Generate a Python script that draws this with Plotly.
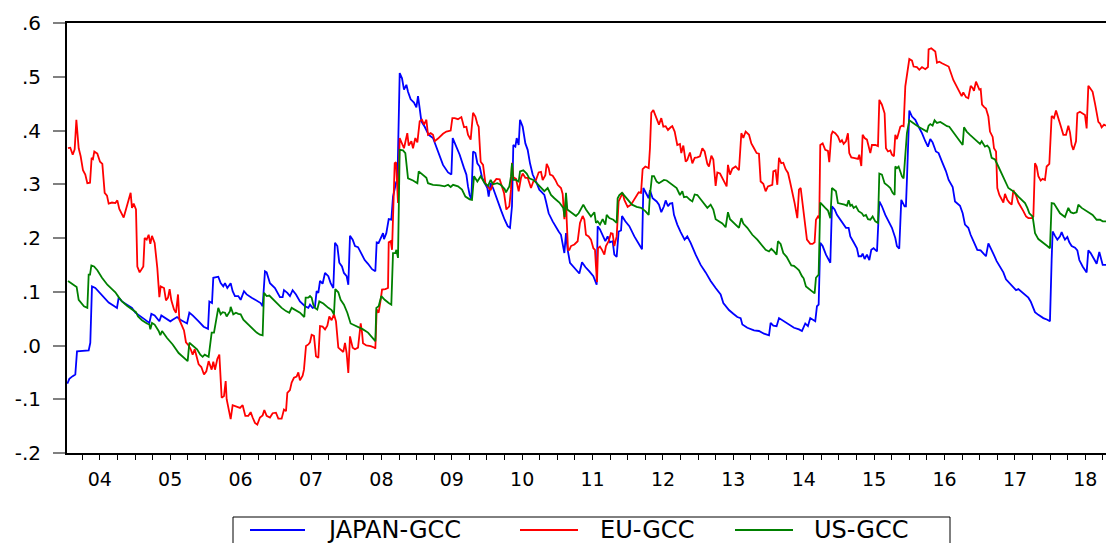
import plotly.graph_objects as go

# Time is in decimal years; values are the rolling correlations.
japan_t = [2004.039, 2004.067, 2004.115, 2004.152, 2004.176, 2004.342, 2004.365, 2004.389, 2004.436, 2004.493,
           2004.531, 2004.579, 2004.626, 2004.697, 2004.744, 2004.768, 2004.815, 2004.886, 2004.957, 2005.005,
           2005.052, 2005.123, 2005.204, 2005.232, 2005.279, 2005.346, 2005.374, 2005.431, 2005.502, 2005.535,
           2005.597, 2005.644, 2005.691, 2005.739, 2005.772, 2005.819, 2005.904, 2005.975, 2006.037, 2006.056,
           2006.094, 2006.112, 2006.183, 2006.217, 2006.254, 2006.278, 2006.311, 2006.359, 2006.387, 2006.420,
           2006.467, 2006.501, 2006.548, 2006.586, 2006.657, 2006.728, 2006.785, 2006.813, 2006.846, 2006.870,
           2006.917, 2006.988, 2007.021, 2007.059, 2007.097, 2007.116, 2007.164, 2007.201, 2007.239, 2007.287,
           2007.343, 2007.415, 2007.462, 2007.486, 2007.523, 2007.556, 2007.580, 2007.604, 2007.628, 2007.665,
           2007.699, 2007.746, 2007.779, 2007.817, 2007.841, 2007.874, 2007.902, 2007.940, 2007.968, 2008.006,
           2008.030, 2008.054, 2008.092, 2008.125, 2008.168, 2008.225, 2008.263, 2008.310, 2008.367, 2008.414,
           2008.433, 2008.461, 2008.499, 2008.523, 2008.537, 2008.570, 2008.604, 2008.641, 2008.665, 2008.698,
           2008.712, 2008.727, 2008.760, 2008.793, 2008.821, 2008.855, 2008.878, 2008.916, 2008.963, 2008.997,
           2009.020, 2009.044, 2009.068, 2009.115, 2009.172, 2009.233, 2009.304, 2009.375, 2009.447, 2009.494,
           2009.513, 2009.550, 2009.612, 2009.674, 2009.707, 2009.730, 2009.754, 2009.778, 2009.802, 2009.835,
           2009.863, 2009.896, 2009.929, 2009.967, 2010.005, 2010.024, 2010.052, 2010.086, 2010.119, 2010.157,
           2010.204, 2010.251, 2010.294, 2010.327, 2010.355, 2010.374, 2010.403, 2010.422, 2010.450, 2010.469,
           2010.507, 2010.545, 2010.578, 2010.611, 2010.649, 2010.706, 2010.743, 2010.781, 2010.815, 2010.838,
           2010.876, 2010.933, 2010.980, 2011.018, 2011.051, 2011.075, 2011.099, 2011.122, 2011.146, 2011.179,
           2011.241, 2011.312, 2011.350, 2011.397, 2011.454, 2011.511, 2011.558, 2011.572, 2011.605, 2011.643,
           2011.681, 2011.714, 2011.747, 2011.785, 2011.809, 2011.842, 2011.870, 2011.904, 2011.918, 2011.965,
           2012.022, 2012.093, 2012.155, 2012.202, 2012.221, 2012.259, 2012.297, 2012.315, 2012.353, 2012.410,
           2012.443, 2012.476, 2012.514, 2012.538, 2012.571, 2012.599, 2012.632, 2012.656, 2012.703, 2012.751,
           2012.807, 2012.845, 2012.893, 2012.964, 2013.035, 2013.106, 2013.177, 2013.248, 2013.319, 2013.357,
           2013.390, 2013.437, 2013.499, 2013.556, 2013.603, 2013.627, 2013.698, 2013.793, 2013.863, 2013.935,
           2014.006, 2014.029, 2014.067, 2014.114, 2014.148, 2014.219, 2014.290, 2014.361, 2014.432, 2014.474,
           2014.521, 2014.559, 2014.592, 2014.663, 2014.687, 2014.711, 2014.734, 2014.768, 2014.815, 2014.853,
           2014.877, 2014.900, 2014.938, 2014.971, 2015.019, 2015.066, 2015.099, 2015.137, 2015.161, 2015.208,
           2015.255, 2015.279, 2015.317, 2015.336, 2015.364, 2015.397, 2015.431, 2015.459, 2015.492, 2015.516,
           2015.540, 2015.573, 2015.610, 2015.658, 2015.705, 2015.752, 2015.800, 2015.823, 2015.856, 2015.885,
           2015.932, 2015.951, 2015.965, 2015.999, 2016.037, 2016.084, 2016.131, 2016.179, 2016.226, 2016.264,
           2016.297, 2016.330, 2016.377, 2016.415, 2016.463, 2016.520, 2016.558, 2016.615, 2016.648, 2016.681,
           2016.719, 2016.757, 2016.790, 2016.837, 2016.870, 2016.918, 2016.965, 2017.012, 2017.050, 2017.088,
           2017.122, 2017.155, 2017.192, 2017.240, 2017.287, 2017.335, 2017.372, 2017.420, 2017.467, 2017.515,
           2017.548, 2017.581, 2017.628, 2017.690, 2017.723, 2017.751, 2017.784, 2017.832, 2017.903, 2017.960,
           2017.997, 2018.021, 2018.035, 2018.069, 2018.102, 2018.140, 2018.163, 2018.187, 2018.210, 2018.244,
           2018.272, 2018.305, 2018.353, 2018.386, 2018.414, 2018.461, 2018.518, 2018.542, 2018.575, 2018.623,
           2018.660, 2018.698, 2018.722, 2018.746, 2018.793]
japan_v = [-0.071, -0.062, -0.057, -0.054, -0.011, -0.009, 0.005, 0.110, 0.107, 0.099,
           0.092, 0.085, 0.080, 0.074, 0.070, 0.089, 0.082, 0.076, 0.070, 0.061,
           0.056, 0.050, 0.042, 0.059, 0.056, 0.045, 0.056, 0.051, 0.045, 0.048,
           0.053, 0.048, 0.045, 0.041, 0.061, 0.056, 0.045, 0.035, 0.031, 0.082,
           0.079, 0.126, 0.128, 0.116, 0.110, 0.116, 0.107, 0.116, 0.101, 0.092,
           0.092, 0.085, 0.101, 0.095, 0.089, 0.084, 0.079, 0.073, 0.138, 0.136,
           0.116, 0.107, 0.099, 0.090, 0.090, 0.103, 0.098, 0.092, 0.103, 0.095,
           0.082, 0.073, 0.070, 0.076, 0.070, 0.072, 0.101, 0.098, 0.120, 0.115,
           0.135, 0.129, 0.116, 0.107, 0.191, 0.185, 0.154, 0.147, 0.135, 0.129,
           0.113, 0.204, 0.197, 0.185, 0.183, 0.169, 0.159, 0.152, 0.142, 0.138,
           0.192, 0.191, 0.203, 0.209, 0.198, 0.209, 0.235, 0.234, 0.277, 0.296,
           0.305, 0.302, 0.507, 0.497, 0.476, 0.485, 0.472, 0.458, 0.452, 0.443,
           0.464, 0.441, 0.417, 0.407, 0.392, 0.386, 0.361, 0.336, 0.322, 0.318,
           0.386, 0.374, 0.355, 0.330, 0.318, 0.296, 0.280, 0.272, 0.361, 0.358,
           0.339, 0.333, 0.313, 0.302, 0.293, 0.277, 0.302, 0.293, 0.280, 0.266,
           0.250, 0.234, 0.222, 0.219, 0.259, 0.373, 0.370, 0.386, 0.373, 0.420,
           0.407, 0.376, 0.364, 0.339, 0.318, 0.302, 0.290, 0.285, 0.280, 0.268,
           0.246, 0.231, 0.219, 0.212, 0.206, 0.192, 0.172, 0.209, 0.178, 0.154,
           0.144, 0.134, 0.155, 0.146, 0.138, 0.129, 0.113, 0.222, 0.216, 0.204,
           0.194, 0.203, 0.192, 0.194, 0.169, 0.165, 0.212, 0.214, 0.241, 0.231,
           0.222, 0.203, 0.190, 0.179, 0.293, 0.283, 0.274, 0.289, 0.274, 0.268,
           0.262, 0.248, 0.259, 0.270, 0.259, 0.264, 0.265, 0.243, 0.225, 0.211,
           0.197, 0.203, 0.191, 0.169, 0.150, 0.136, 0.120, 0.107, 0.095, 0.079,
           0.074, 0.066, 0.059, 0.053, 0.051, 0.039, 0.033, 0.028, 0.027, 0.022,
           0.019, 0.042, 0.037, 0.036, 0.051, 0.045, 0.039, 0.033, 0.030, 0.027,
           0.041, 0.036, 0.051, 0.045, 0.073, 0.076, 0.191, 0.185, 0.169, 0.160,
           0.154, 0.259, 0.253, 0.243, 0.234, 0.225, 0.219, 0.219, 0.203, 0.192,
           0.181, 0.166, 0.166, 0.171, 0.161, 0.169, 0.159, 0.178, 0.181, 0.178,
           0.175, 0.268, 0.259, 0.243, 0.231, 0.219, 0.200, 0.185, 0.180, 0.271,
           0.259, 0.259, 0.308, 0.437, 0.426, 0.420, 0.407, 0.395, 0.380, 0.370,
           0.384, 0.378, 0.361, 0.358, 0.342, 0.324, 0.308, 0.295, 0.268, 0.264,
           0.260, 0.246, 0.225, 0.219, 0.206, 0.192, 0.178, 0.177, 0.171, 0.166,
           0.190, 0.182, 0.171, 0.157, 0.147, 0.136, 0.123, 0.116, 0.110, 0.103,
           0.105, 0.101, 0.095, 0.089, 0.082, 0.074, 0.062, 0.057, 0.051, 0.048,
           0.045, 0.160, 0.212, 0.204, 0.197, 0.203, 0.211, 0.203, 0.197, 0.202,
           0.192, 0.185, 0.182, 0.177, 0.159, 0.147, 0.136, 0.177, 0.172, 0.161,
           0.152, 0.174, 0.159, 0.150, 0.150]

eu_t = [2004.048, 2004.081, 2004.115, 2004.143, 2004.167, 2004.200, 2004.228, 2004.261, 2004.294, 2004.323,
        2004.361, 2004.384, 2004.403, 2004.422, 2004.465, 2004.503, 2004.536, 2004.569, 2004.602, 2004.626,
        2004.673, 2004.721, 2004.749, 2004.777, 2004.839, 2004.891, 2004.910, 2004.938, 2004.957, 2004.981,
        2005.014, 2005.033, 2005.066, 2005.118, 2005.137, 2005.166, 2005.194, 2005.218, 2005.241, 2005.279,
        2005.317, 2005.346, 2005.365, 2005.412, 2005.440, 2005.469, 2005.492, 2005.516, 2005.554, 2005.582,
        2005.611, 2005.630, 2005.668, 2005.696, 2005.724, 2005.762, 2005.791, 2005.819, 2005.848, 2005.876,
        2005.904, 2005.942, 2005.980, 2006.013, 2006.046, 2006.089, 2006.112, 2006.136, 2006.169, 2006.198,
        2006.231, 2006.264, 2006.288, 2006.302, 2006.325, 2006.359, 2006.387, 2006.444, 2006.491, 2006.529,
        2006.567, 2006.609, 2006.643, 2006.671, 2006.704, 2006.737, 2006.775, 2006.813, 2006.837, 2006.870,
        2006.917, 2006.955, 2007.002, 2007.036, 2007.083, 2007.116, 2007.145, 2007.164, 2007.201, 2007.225,
        2007.258, 2007.296, 2007.320, 2007.343, 2007.381, 2007.400, 2007.429, 2007.462, 2007.486, 2007.509,
        2007.542, 2007.571, 2007.604, 2007.628, 2007.665, 2007.699, 2007.732, 2007.760, 2007.793, 2007.826,
        2007.855, 2007.888, 2007.921, 2007.959, 2007.983, 2008.006, 2008.030, 2008.054, 2008.092, 2008.125,
        2008.168, 2008.206, 2008.225, 2008.239, 2008.286, 2008.348, 2008.405, 2008.414, 2008.433, 2008.461,
        2008.490, 2008.509, 2008.556, 2008.594, 2008.604, 2008.632, 2008.651, 2008.665, 2008.689, 2008.708,
        2008.736, 2008.760, 2008.793, 2008.821, 2008.868, 2008.888, 2008.926, 2008.949, 2008.982, 2009.011,
        2009.044, 2009.077, 2009.106, 2009.139, 2009.162, 2009.200, 2009.233, 2009.257, 2009.304, 2009.375,
        2009.423, 2009.484, 2009.508, 2009.541, 2009.588, 2009.636, 2009.674, 2009.707, 2009.730, 2009.768,
        2009.802, 2009.835, 2009.863, 2009.882, 2009.910, 2009.944, 2009.977, 2010.015, 2010.052, 2010.086,
        2010.133, 2010.180, 2010.214, 2010.242, 2010.275, 2010.317, 2010.341, 2010.355, 2010.374, 2010.412,
        2010.450, 2010.483, 2010.507, 2010.545, 2010.578, 2010.625, 2010.658, 2010.696, 2010.734, 2010.767,
        2010.791, 2010.829, 2010.848, 2010.876, 2010.895, 2010.933, 2010.971, 2011.004, 2011.051, 2011.075,
        2011.099, 2011.122, 2011.132, 2011.151, 2011.170, 2011.193, 2011.241, 2011.288, 2011.321, 2011.359,
        2011.383, 2011.406, 2011.444, 2011.477, 2011.511, 2011.534, 2011.548, 2011.563, 2011.577, 2011.605,
        2011.634, 2011.667, 2011.690, 2011.728, 2011.761, 2011.785, 2011.809, 2011.842, 2011.870, 2011.904,
        2011.927, 2011.951, 2011.998, 2012.046, 2012.107, 2012.155, 2012.188, 2012.211, 2012.249, 2012.297,
        2012.315, 2012.334, 2012.363, 2012.419, 2012.443, 2012.476, 2012.505, 2012.538, 2012.571, 2012.609,
        2012.632, 2012.666, 2012.703, 2012.741, 2012.760, 2012.789, 2012.822, 2012.845, 2012.883, 2012.917,
        2012.950, 2012.988, 2013.025, 2013.059, 2013.092, 2013.130, 2013.153, 2013.187, 2013.215, 2013.248,
        2013.272, 2013.310, 2013.343, 2013.376, 2013.404, 2013.423, 2013.452, 2013.485, 2013.532, 2013.579,
        2013.613, 2013.641, 2013.674, 2013.722, 2013.755, 2013.793, 2013.830, 2013.863, 2013.887, 2013.925,
        2013.958, 2013.991, 2014.029, 2014.053, 2014.067, 2014.100, 2014.124, 2014.148, 2014.180, 2014.209,
        2014.242, 2014.276, 2014.304, 2014.337, 2014.370, 2014.408, 2014.432, 2014.456, 2014.488, 2014.512,
        2014.531, 2014.545, 2014.592, 2014.625, 2014.654, 2014.673, 2014.701, 2014.720, 2014.734, 2014.768,
        2014.805, 2014.843, 2014.862, 2014.891, 2014.910, 2014.947, 2014.985, 2015.019, 2015.042, 2015.066,
        2015.099, 2015.127, 2015.146, 2015.175, 2015.208, 2015.270, 2015.288, 2015.317, 2015.336, 2015.364,
        2015.397, 2015.421, 2015.445, 2015.468, 2015.516, 2015.554, 2015.573, 2015.610, 2015.648, 2015.667,
        2015.696, 2015.729, 2015.752, 2015.781, 2015.800, 2015.823, 2015.847, 2015.871, 2015.894, 2015.918,
        2015.942, 2015.965, 2015.999, 2016.037, 2016.060, 2016.107, 2016.141, 2016.179, 2016.226, 2016.264,
        2016.273, 2016.311, 2016.344, 2016.368, 2016.392, 2016.425, 2016.463, 2016.501, 2016.558, 2016.624,
        2016.662, 2016.695, 2016.743, 2016.766, 2016.804, 2016.837, 2016.871, 2016.899, 2016.918, 2016.946,
        2016.965, 2016.994, 2017.013, 2017.032, 2017.060, 2017.088, 2017.122, 2017.145, 2017.183, 2017.202,
        2017.231, 2017.249, 2017.278, 2017.311, 2017.335, 2017.358, 2017.391, 2017.420, 2017.453, 2017.477,
        2017.515, 2017.548, 2017.581, 2017.619, 2017.657, 2017.690, 2017.737, 2017.761, 2017.784, 2017.808,
        2017.832, 2017.865, 2017.893, 2017.926, 2017.950, 2017.988, 2018.021, 2018.054, 2018.083, 2018.116,
        2018.149, 2018.187, 2018.225, 2018.258, 2018.282, 2018.305, 2018.329, 2018.367, 2018.386, 2018.423,
        2018.461, 2018.494, 2018.518, 2018.542, 2018.566, 2018.603, 2018.637, 2018.660, 2018.684, 2018.708,
        2018.731, 2018.765, 2018.793]
eu_v = [0.367, 0.368, 0.355, 0.365, 0.420, 0.367, 0.352, 0.326, 0.318, 0.302,
        0.303, 0.349, 0.347, 0.361, 0.357, 0.342, 0.338, 0.284, 0.279, 0.264,
        0.266, 0.265, 0.270, 0.254, 0.238, 0.259, 0.271, 0.284, 0.256, 0.264,
        0.253, 0.147, 0.136, 0.147, 0.200, 0.197, 0.206, 0.189, 0.204, 0.191,
        0.144, 0.090, 0.110, 0.107, 0.084, 0.089, 0.105, 0.084, 0.067, 0.061,
        0.095, 0.048, 0.037, 0.028, 0.006, 0.000, -0.007, -0.017, -0.007, -0.021,
        -0.035, -0.040, -0.054, -0.048, -0.029, -0.045, -0.030, -0.045, -0.025, -0.017,
        -0.097, -0.094, -0.066, -0.100, -0.113, -0.137, -0.111, -0.113, -0.116, -0.111,
        -0.131, -0.131, -0.124, -0.134, -0.144, -0.147, -0.134, -0.130, -0.120, -0.131,
        -0.134, -0.126, -0.125, -0.136, -0.136, -0.119, -0.122, -0.088, -0.083, -0.069,
        -0.060, -0.058, -0.050, -0.065, -0.056, -0.045, -0.001, 0.002, 0.006, 0.020,
        0.018, -0.020, -0.023, 0.036, 0.035, 0.030, 0.037, 0.054, 0.047, 0.058,
        0.045, -0.004, -0.007, -0.012, 0.005, -0.014, -0.051, 0.017, -0.004, -0.007,
        -0.004, 0.041, 0.024, 0.004, 0.000, -0.001, -0.004, -0.006, 0.067, 0.061,
        0.085, 0.104, 0.105, 0.107, 0.192, 0.194, 0.178, 0.259, 0.339, 0.341,
        0.265, 0.386, 0.376, 0.367, 0.395, 0.372, 0.380, 0.367, 0.386, 0.378,
        0.417, 0.420, 0.411, 0.420, 0.392, 0.395, 0.392, 0.380, 0.385, 0.394,
        0.398, 0.400, 0.423, 0.423, 0.421, 0.425, 0.406, 0.407, 0.392, 0.383,
        0.433, 0.426, 0.412, 0.407, 0.342, 0.336, 0.302, 0.296, 0.289, 0.302,
        0.310, 0.309, 0.297, 0.284, 0.253, 0.259, 0.290, 0.340, 0.313, 0.310,
        0.287, 0.312, 0.320, 0.312, 0.312, 0.293, 0.305, 0.308, 0.322, 0.323,
        0.308, 0.317, 0.338, 0.330, 0.318, 0.316, 0.308, 0.299, 0.293, 0.282,
        0.235, 0.280, 0.234, 0.178, 0.178, 0.185, 0.188, 0.194, 0.228, 0.241,
        0.234, 0.206, 0.203, 0.197, 0.181, 0.178, 0.147, 0.118, 0.181, 0.184,
        0.178, 0.169, 0.185, 0.194, 0.209, 0.208, 0.185, 0.203, 0.268, 0.277,
        0.284, 0.271, 0.258, 0.262, 0.276, 0.285, 0.284, 0.328, 0.333, 0.330,
        0.367, 0.433, 0.438, 0.421, 0.411, 0.423, 0.407, 0.408, 0.401, 0.406,
        0.408, 0.398, 0.373, 0.375, 0.358, 0.372, 0.342, 0.345, 0.359, 0.339,
        0.349, 0.350, 0.352, 0.367, 0.361, 0.338, 0.333, 0.353, 0.346, 0.297,
        0.322, 0.320, 0.311, 0.302, 0.296, 0.336, 0.318, 0.329, 0.333, 0.326,
        0.395, 0.386, 0.398, 0.392, 0.376, 0.367, 0.358, 0.357, 0.305, 0.301,
        0.287, 0.296, 0.297, 0.299, 0.324, 0.326, 0.299, 0.349, 0.339, 0.340,
        0.328, 0.321, 0.305, 0.287, 0.265, 0.237, 0.290, 0.293, 0.259, 0.234,
        0.209, 0.197, 0.189, 0.189, 0.192, 0.234, 0.240, 0.237, 0.373, 0.376,
        0.364, 0.362, 0.341, 0.392, 0.398, 0.395, 0.389, 0.378, 0.382, 0.375,
        0.380, 0.395, 0.358, 0.350, 0.349, 0.347, 0.355, 0.334, 0.392, 0.386,
        0.383, 0.367, 0.358, 0.373, 0.373, 0.371, 0.457, 0.448, 0.432, 0.367,
        0.361, 0.363, 0.355, 0.352, 0.392, 0.384, 0.395, 0.407, 0.409, 0.408,
        0.482, 0.507, 0.533, 0.530, 0.519, 0.518, 0.513, 0.518, 0.514, 0.518,
        0.551, 0.553, 0.549, 0.547, 0.526, 0.528, 0.525, 0.522, 0.519, 0.494,
        0.485, 0.476, 0.464, 0.471, 0.462, 0.460, 0.483, 0.479, 0.474, 0.491,
        0.485, 0.476, 0.477, 0.448, 0.444, 0.441, 0.426, 0.398, 0.388, 0.367,
        0.361, 0.293, 0.280, 0.271, 0.266, 0.282, 0.271, 0.266, 0.262, 0.289,
        0.279, 0.266, 0.259, 0.250, 0.240, 0.237, 0.237, 0.240, 0.339, 0.333,
        0.315, 0.307, 0.310, 0.308, 0.333, 0.338, 0.427, 0.423, 0.437, 0.421,
        0.409, 0.392, 0.392, 0.409, 0.396, 0.373, 0.364, 0.380, 0.432, 0.435,
        0.432, 0.429, 0.404, 0.483, 0.479, 0.472, 0.450, 0.435, 0.416, 0.413,
        0.406, 0.411, 0.409]

us_t = [2004.048, 2004.105, 2004.171, 2004.200, 2004.237, 2004.275, 2004.323, 2004.342, 2004.361, 2004.380,
        2004.418, 2004.465, 2004.531, 2004.607, 2004.673, 2004.721, 2004.768, 2004.815, 2004.886, 2004.981,
        2005.014, 2005.043, 2005.099, 2005.170, 2005.204, 2005.218, 2005.241, 2005.279, 2005.336, 2005.360,
        2005.384, 2005.455, 2005.535, 2005.620, 2005.691, 2005.748, 2005.772, 2005.819, 2005.881, 2005.928,
        2005.961, 2005.990, 2006.046, 2006.065, 2006.089, 2006.122, 2006.150, 2006.183, 2006.217, 2006.245,
        2006.278, 2006.302, 2006.349, 2006.359, 2006.396, 2006.434, 2006.467, 2006.501, 2006.539, 2006.586,
        2006.657, 2006.728, 2006.775, 2006.813, 2006.832, 2006.870, 2006.908, 2006.965, 2007.012, 2007.083,
        2007.145, 2007.192, 2007.225, 2007.272, 2007.343, 2007.405, 2007.424, 2007.462, 2007.486, 2007.509,
        2007.533, 2007.556, 2007.589, 2007.618, 2007.675, 2007.746, 2007.793, 2007.826, 2007.845, 2007.888,
        2007.921, 2007.968, 2008.016, 2008.063, 2008.125, 2008.168, 2008.239, 2008.310, 2008.381, 2008.414,
        2008.428, 2008.461, 2008.499, 2008.547, 2008.604, 2008.641, 2008.665, 2008.698, 2008.713, 2008.736,
        2008.760, 2008.807, 2008.840, 2008.878, 2008.949, 2009.011, 2009.030, 2009.091, 2009.139, 2009.162,
        2009.233, 2009.328, 2009.399, 2009.447, 2009.484, 2009.518, 2009.588, 2009.645, 2009.693, 2009.754,
        2009.787, 2009.816, 2009.863, 2009.910, 2009.967, 2010.015, 2010.052, 2010.086, 2010.147, 2010.195,
        2010.251, 2010.270, 2010.317, 2010.341, 2010.355, 2010.374, 2010.412, 2010.450, 2010.469, 2010.516,
        2010.564, 2010.601, 2010.658, 2010.706, 2010.767, 2010.815, 2010.862, 2010.909, 2010.957, 2011.028,
        2011.084, 2011.103, 2011.122, 2011.141, 2011.193, 2011.264, 2011.302, 2011.368, 2011.406, 2011.477,
        2011.525, 2011.548, 2011.572, 2011.605, 2011.643, 2011.681, 2011.700, 2011.738, 2011.795, 2011.842,
        2011.856, 2011.880, 2011.918, 2011.951, 2011.998, 2012.060, 2012.126, 2012.188, 2012.249, 2012.297,
        2012.315, 2012.344, 2012.372, 2012.410, 2012.443, 2012.476, 2012.514, 2012.552, 2012.599, 2012.647,
        2012.694, 2012.741, 2012.775, 2012.798, 2012.836, 2012.883, 2012.917, 2012.950, 2012.988, 2013.035,
        2013.082, 2013.130, 2013.177, 2013.215, 2013.248, 2013.295, 2013.343, 2013.390, 2013.423, 2013.452,
        2013.509, 2013.579, 2013.613, 2013.641, 2013.698, 2013.769, 2013.840, 2013.897, 2013.958, 2014.006,
        2014.039, 2014.077, 2014.114, 2014.133, 2014.171, 2014.209, 2014.256, 2014.323, 2014.361, 2014.399,
        2014.432, 2014.474, 2014.498, 2014.531, 2014.578, 2014.616, 2014.654, 2014.673, 2014.711, 2014.734,
        2014.768, 2014.805, 2014.843, 2014.877, 2014.900, 2014.938, 2014.957, 2014.985, 2015.033, 2015.080,
        2015.113, 2015.137, 2015.161, 2015.184, 2015.208, 2015.241, 2015.279, 2015.326, 2015.350, 2015.383,
        2015.412, 2015.445, 2015.478, 2015.516, 2015.554, 2015.573, 2015.610, 2015.648, 2015.696, 2015.729,
        2015.762, 2015.790, 2015.800, 2015.823, 2015.847, 2015.871, 2015.894, 2015.918, 2015.942, 2015.965,
        2015.999, 2016.037, 2016.084, 2016.141, 2016.202, 2016.250, 2016.273, 2016.297, 2016.330, 2016.358,
        2016.392, 2016.439, 2016.486, 2016.534, 2016.567, 2016.648, 2016.681, 2016.719, 2016.757, 2016.776,
        2016.814, 2016.861, 2016.908, 2016.956, 2017.003, 2017.027, 2017.074, 2017.107, 2017.136, 2017.169,
        2017.216, 2017.264, 2017.311, 2017.358, 2017.406, 2017.453, 2017.500, 2017.548, 2017.595, 2017.643,
        2017.676, 2017.704, 2017.751, 2017.785, 2017.832, 2017.893, 2017.950, 2017.997, 2018.021, 2018.054,
        2018.092, 2018.140, 2018.210, 2018.258, 2018.291, 2018.329, 2018.376, 2018.400, 2018.447, 2018.495,
        2018.556, 2018.603, 2018.660, 2018.708, 2018.746, 2018.793]
us_v = [0.120, 0.115, 0.109, 0.085, 0.078, 0.073, 0.070, 0.132, 0.132, 0.149,
        0.147, 0.140, 0.126, 0.113, 0.105, 0.099, 0.090, 0.082, 0.074, 0.066,
        0.062, 0.054, 0.047, 0.041, 0.039, 0.030, 0.042, 0.039, 0.027, 0.019,
        0.027, 0.014, 0.002, -0.014, -0.023, -0.029, 0.005, -0.001, -0.007, -0.017,
        -0.021, -0.017, -0.021, -0.001, 0.024, 0.024, 0.045, 0.070, 0.058, 0.062,
        0.061, 0.054, 0.064, 0.072, 0.058, 0.061, 0.059, 0.058, 0.048, 0.042,
        0.033, 0.024, 0.020, 0.019, 0.098, 0.092, 0.093, 0.085, 0.080, 0.070,
        0.064, 0.061, 0.070, 0.067, 0.061, 0.053, 0.089, 0.089, 0.092, 0.089,
        0.076, 0.070, 0.067, 0.082, 0.078, 0.070, 0.066, 0.058, 0.105, 0.099,
        0.085, 0.076, 0.061, 0.041, 0.037, 0.035, 0.030, 0.024, 0.014, 0.008,
        0.070, 0.073, 0.092, 0.085, 0.079, 0.076, 0.172, 0.172, 0.178, 0.163,
        0.364, 0.363, 0.358, 0.311, 0.307, 0.302, 0.324, 0.318, 0.312, 0.302,
        0.299, 0.298, 0.296, 0.299, 0.295, 0.299, 0.296, 0.290, 0.277, 0.272,
        0.271, 0.315, 0.305, 0.315, 0.302, 0.297, 0.308, 0.300, 0.302, 0.299,
        0.291, 0.285, 0.296, 0.315, 0.339, 0.308, 0.308, 0.305, 0.324, 0.326,
        0.320, 0.311, 0.308, 0.302, 0.293, 0.287, 0.293, 0.280, 0.274, 0.266,
        0.256, 0.239, 0.284, 0.253, 0.248, 0.241, 0.246, 0.262, 0.253, 0.240,
        0.248, 0.228, 0.231, 0.225, 0.235, 0.225, 0.243, 0.237, 0.234, 0.228,
        0.274, 0.280, 0.284, 0.279, 0.271, 0.262, 0.258, 0.256, 0.250, 0.243,
        0.280, 0.315, 0.315, 0.305, 0.302, 0.305, 0.308, 0.307, 0.302, 0.297,
        0.293, 0.280, 0.287, 0.276, 0.277, 0.271, 0.268, 0.281, 0.280, 0.272,
        0.265, 0.256, 0.262, 0.253, 0.235, 0.231, 0.227, 0.220, 0.248, 0.235,
        0.228, 0.219, 0.237, 0.227, 0.219, 0.206, 0.197, 0.188, 0.178, 0.175,
        0.180, 0.175, 0.169, 0.194, 0.189, 0.172, 0.165, 0.149, 0.148, 0.144,
        0.140, 0.129, 0.125, 0.110, 0.105, 0.101, 0.097, 0.126, 0.132, 0.266,
        0.262, 0.256, 0.251, 0.237, 0.293, 0.290, 0.287, 0.265, 0.264, 0.262,
        0.260, 0.270, 0.260, 0.262, 0.256, 0.259, 0.250, 0.246, 0.241, 0.243,
        0.235, 0.234, 0.240, 0.231, 0.228, 0.320, 0.318, 0.302, 0.297, 0.293,
        0.284, 0.280, 0.333, 0.330, 0.333, 0.322, 0.315, 0.311, 0.358, 0.395,
        0.419, 0.415, 0.411, 0.406, 0.401, 0.398, 0.409, 0.412, 0.409, 0.419,
        0.414, 0.416, 0.412, 0.408, 0.407, 0.392, 0.386, 0.378, 0.373, 0.406,
        0.398, 0.392, 0.386, 0.380, 0.375, 0.380, 0.370, 0.372, 0.367, 0.349,
        0.346, 0.333, 0.320, 0.305, 0.293, 0.289, 0.284, 0.277, 0.271, 0.265,
        0.256, 0.246, 0.240, 0.209, 0.198, 0.191, 0.186, 0.181, 0.265, 0.264,
        0.256, 0.246, 0.239, 0.256, 0.248, 0.246, 0.248, 0.262, 0.256, 0.252,
        0.246, 0.243, 0.234, 0.234, 0.231, 0.231]

year_labels = ["04", "05", "06", "07", "08", "09", "10", "11", "12", "13", "14", "15", "16", "17", "18"]
y_ticks = [-0.2, -0.1, 0.0, 0.1, 0.2, 0.3, 0.4, 0.5, 0.6]
y_labels = ["-.2", "-.1", ".0", ".1", ".2", ".3", ".4", ".5", ".6"]

series = [("JAPAN-GCC", japan_t, japan_v, "#0000ff"),
          ("EU-GCC", eu_t, eu_v, "#ff0000"),
          ("US-GCC", us_t, us_v, "#008000")]

first_year = 2004
year_mids = [first_year + i + 0.5 for i in range(len(year_labels))]
year_edges = [first_year + i for i in range(1, len(year_labels))]

FONT = "DejaVu Sans"
W, H = 1106, 543
M_L, M_R, M_T, M_B = 67, 0, 23, 90
x_range = [2004.034, 2018.793]


def px_x(px):
    """Page pixel column -> paper x."""
    return (px - M_L) / (W - M_L - M_R)


def px_y(py):
    """Page pixel row -> paper y."""
    return (H - M_B - py) / (H - M_T - M_B)


fig = go.Figure()
for name, t, v, color in series:
    fig.add_trace(go.Scatter(x=t, y=v, mode="lines", name=name,
                             line=dict(color=color, width=1.8), showlegend=False))

# Boxed legend strip below the axis, running off the bottom edge.
legend_box = dict(left=233, right=950, top=517, bottom=570)
legend_row_y = 530
legend_entries = [(250, 305, 325), (520, 578, 598), (735, 793, 812)]  # line start, line end, text start

shapes = [dict(type="rect", xref="paper", yref="paper",
               x0=px_x(legend_box["left"]), x1=px_x(legend_box["right"]),
               y0=px_y(legend_box["bottom"]), y1=px_y(legend_box["top"]),
               line=dict(color="black", width=1), fillcolor="white", layer="above")]
annotations = []
for (name, _, _, color), (lx0, lx1, tx) in zip(series, legend_entries):
    shapes.append(dict(type="line", xref="paper", yref="paper",
                       x0=px_x(lx0), x1=px_x(lx1), y0=px_y(legend_row_y), y1=px_y(legend_row_y),
                       line=dict(color=color, width=1.8), layer="above"))
    annotations.append(dict(text=name, xref="paper", yref="paper",
                            x=px_x(tx), y=px_y(legend_row_y), xanchor="left", yanchor="middle",
                            showarrow=False, font=dict(family=FONT, size=24, color="black")))

fig.update_layout(
    width=W, height=H,
    margin=dict(l=M_L, r=M_R, t=M_T, b=M_B, autoexpand=False),
    paper_bgcolor="white", plot_bgcolor="white",
    font=dict(family=FONT, size=19, color="black"),
    showlegend=False,
    shapes=shapes,
    annotations=annotations,
    xaxis=dict(range=x_range, showgrid=False, zeroline=False,
               showline=True, linecolor="black", linewidth=2, mirror=True,
               tickmode="array", tickvals=year_mids, ticktext=year_labels,
               ticks="outside", ticklen=5, tickwidth=1, tickcolor="black",
               ticklabelstandoff=3,
               minor=dict(dtick=0.25, tick0=2004, ticks="outside", ticklen=5,
                          tickwidth=1, tickcolor="black"),
               tickfont=dict(family=FONT, size=19, color="black")),
    xaxis2=dict(range=x_range, overlaying="x", matches="x", anchor="y", side="bottom",
                showgrid=False, zeroline=False, showline=False,
                tickmode="array", tickvals=year_edges, showticklabels=False,
                ticks="outside", ticklen=10, tickwidth=1, tickcolor="black"),
    yaxis=dict(range=[-0.2, 0.6], showgrid=False, zeroline=False,
               showline=True, linecolor="black", linewidth=2,
               tickmode="array", tickvals=y_ticks, ticktext=y_labels,
               ticks="outside", ticklen=12, tickwidth=1.5, tickcolor="#808080",
               ticklabelstandoff=8,
               tickfont=dict(family=FONT, size=20, color="black")),
)

fig.write_html("out.html")
